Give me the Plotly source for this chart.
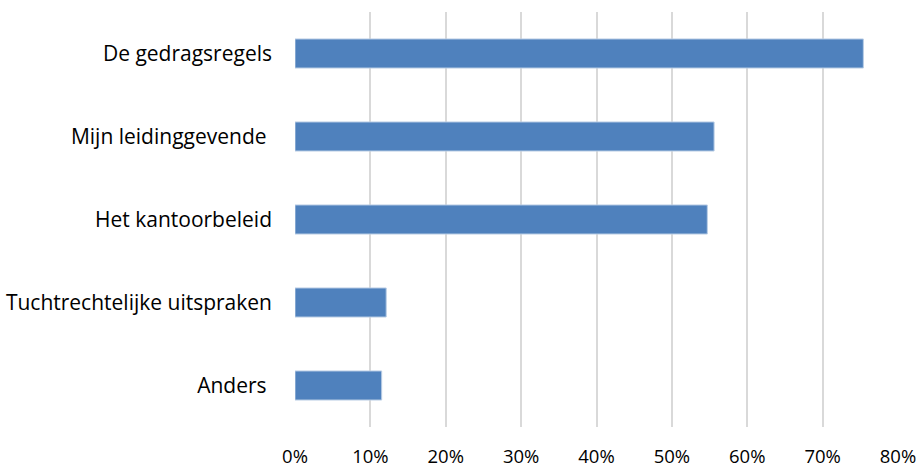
import plotly.graph_objects as go

# Survey answers and their shares
categories = [
    "De gedragsregels",
    "Mijn leidinggevende\u00a0",
    "Het kantoorbeleid",
    "Tuchtrechtelijke uitspraken",
    "Anders\u00a0",
]
shares = [0.754, 0.556, 0.547, 0.121, 0.115]
tick_values = [0, 0.1, 0.2, 0.3, 0.4, 0.5, 0.6, 0.7, 0.8]
tick_labels = ["0%", "10%", "20%", "30%", "40%", "50%", "60%", "70%", "80%"]

FONT = "Open Sans"

fig = go.Figure(
    go.Bar(
        x=shares,
        y=categories,
        orientation="h",
        marker=dict(color="#4F81BD", line=dict(color="#B9CDE5", width=1)),
        hoverinfo="x+y",
    )
)

fig.update_layout(
    width=920,
    height=469,
    margin=dict(l=295, r=22, t=12, b=42, autoexpand=False),
    paper_bgcolor="white",
    plot_bgcolor="white",
    bargap=0.65,
    showlegend=False,
    font=dict(family=FONT, size=18, color="#000000"),
)

fig.update_xaxes(
    range=[0, 0.8],
    tickvals=tick_values,
    ticktext=tick_labels,
    showgrid=True,
    gridcolor="#D9D9D9",
    gridwidth=1.5,
    zeroline=False,
    showline=False,
    ticks="",
    automargin=False,
    ticklabelstandoff=16,
    tickfont=dict(family=FONT, size=18.5),
)

fig.update_yaxes(
    autorange="reversed",
    showgrid=False,
    zeroline=False,
    showline=False,
    ticks="",
    automargin=False,
    ticklabelstandoff=22,
    tickfont=dict(family=FONT, size=21),
)

fig.write_html("out.html")
